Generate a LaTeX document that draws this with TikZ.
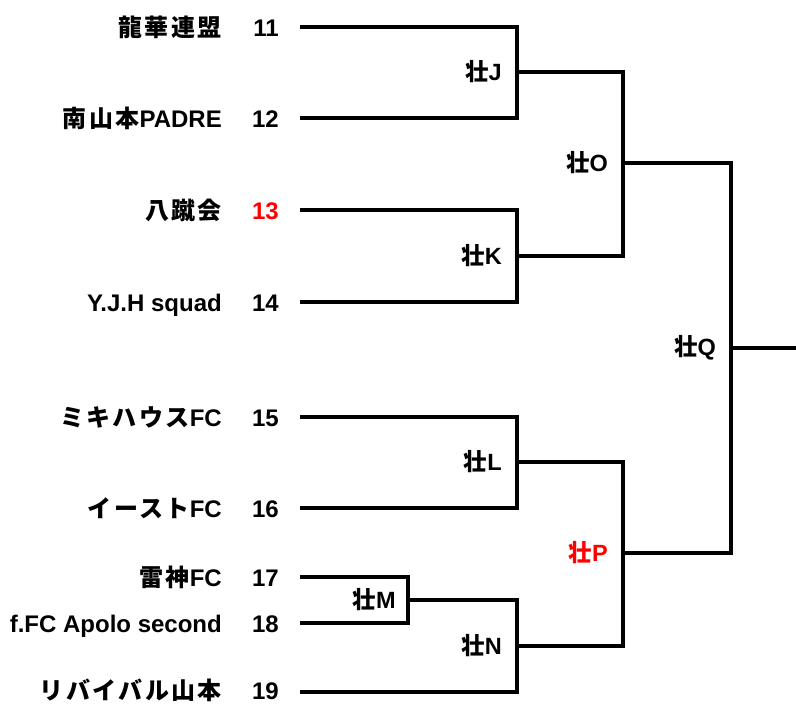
\documentclass[tikz,border=0pt]{standalone}
\usepackage{fontspec}
\setmainfont{Liberation Sans}
\newfontfamily\cjkfont[LetterSpace=10]{Noto Sans CJK JP}
\newfontfamily\cjklbl{Noto Sans CJK JP}
\newcommand{\jp}[1]{{\cjkfont #1}}
\newcommand{\so}{{\cjklbl 壮}}
\tikzset{%
    brk/.style={line width = 4pt, line join=miter},
    team/.style={anchor=base east, inner sep=0pt, font=\fontsize{24}{28}\selectfont\bfseries},
    num/.style={anchor=base east, inner sep=0pt, font=\fontsize{24}{28}\selectfont\bfseries},
    rnd/.style={anchor=east, inner sep=0pt, font=\fontsize{23.5}{27}\selectfont\bfseries},
}

\begin{document}
\begin{tikzpicture}[x=1pt,y=-1pt]
    \useasboundingbox[fill=white] (0,0) rectangle (796,704);
    % seeds
    \coordinate (s11) at (300,27);
    \coordinate (s12) at (300,118);
    \coordinate (s13) at (300,210);
    \coordinate (s14) at (300,302);
    \coordinate (s15) at (300,417);
    \coordinate (s16) at (300,508);
    \coordinate (s17) at (300,577);
    \coordinate (s18) at (300,623);
    \coordinate (s19) at (300,692);
    \node[team] (t11) at (222,36) {\jp{龍華連盟}};
    \node[team] (t12) at (222,127) {\jp{南山本}PADRE};
    \node[team] (t13) at (222,219) {\jp{八蹴会}};
    \node[team] (t14) at (222,311) {Y.J.H squad};
    \node[team] (t15) at (222,426) {\jp{ミキハウス}FC};
    \node[team] (t16) at (222,517) {\jp{イースト}FC};
    \node[team] (t17) at (222,586) {\jp{雷神}FC};
    \node[team] (t18) at (222,632) {f.FC Apolo second};
    \node[team] (t19) at (222,699) {\jp{リバイバル山本}};
    \node[num] (n11) at (279,36) {11};
    \node[num] (n12) at (279,127) {12};
    \node[num, red] (n13) at (279,219) {13};
    \node[num] (n14) at (279,311) {14};
    \node[num] (n15) at (279,426) {15};
    \node[num] (n16) at (279,517) {16};
    \node[num] (n17) at (279,586) {17};
    \node[num] (n18) at (279,632) {18};
    \node[num] (n19) at (279,699) {19};
    % matches
    \coordinate (J) at (517,72);
    \coordinate (K) at (517,256);
    \coordinate (L) at (517,462);
    \coordinate (M) at (408,600);
    \coordinate (N) at (517,646);
    \coordinate (O) at (623,163);
    \coordinate (P) at (623,553);
    \coordinate (Q) at (731,348);
    \coordinate (win) at (796,348);
    \draw [brk] (s11) -| (J) |- (s12);
    \draw [brk] (s13) -| (K) |- (s14);
    \draw [brk] (s15) -| (L) |- (s16);
    \draw [brk] (s17) -| (M) |- (s18);
    \draw [brk] (M) -| (N) |- (s19);
    \draw [brk] (J) -| (O) |- (K);
    \draw [brk] (L) -| (P) |- (N);
    \draw [brk] (O) -| (Q) |- (P);
    \draw [brk] (Q) -- (win);
    \node[rnd] (lJ) at ([xshift=-15pt]J) {\so J};
    \node[rnd] (lK) at ([xshift=-15pt]K) {\so K};
    \node[rnd] (lL) at ([xshift=-15pt]L) {\so L};
    \node[rnd] (lM) at ([xshift=-12pt]M) {\so M};
    \node[rnd] (lN) at ([xshift=-15pt]N) {\so N};
    \node[rnd] (lO) at ([xshift=-15pt]O) {\so O};
    \node[rnd, red] (lP) at ([xshift=-15pt]P) {\so P};
    \node[rnd] (lQ) at ([xshift=-15pt]Q) {\so Q};
\end{tikzpicture}
\end{document}
